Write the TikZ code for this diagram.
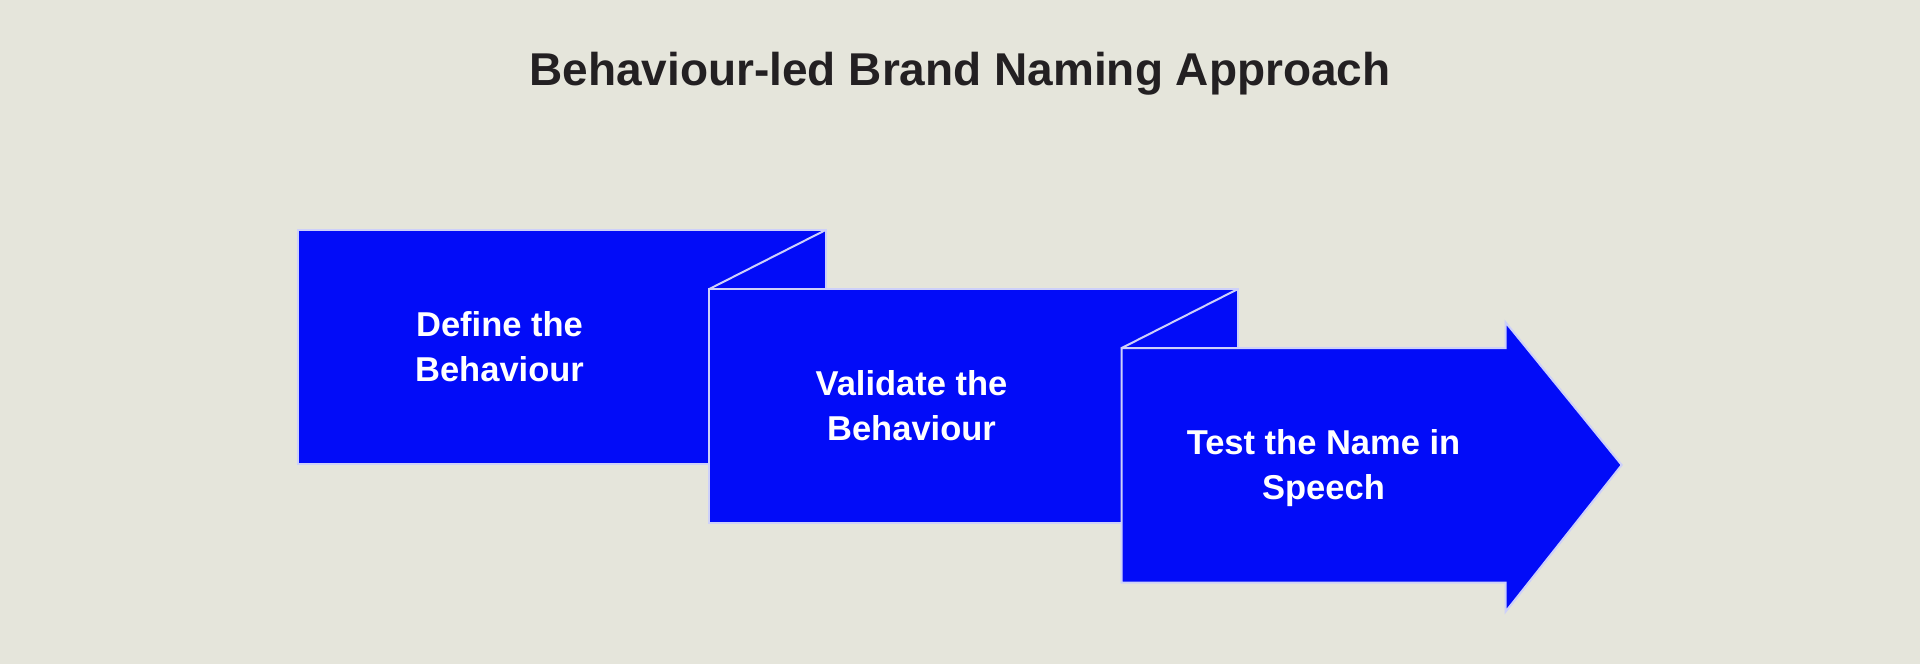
\documentclass[tikz,border=0pt]{standalone}
\usepackage{fontspec}
\setmainfont{Liberation Sans}
\definecolor{bgcol}{RGB}{229,229,219}
\definecolor{boxblue}{RGB}{2,12,248}
\definecolor{edgecol}{RGB}{205,208,250}
\definecolor{titlecol}{RGB}{35,32,34}
\tikzset{
  panel/.style={fill=boxblue, draw=edgecol, line width=2pt, line join=miter},
  foldline/.style={draw=edgecol, line width=2pt, line cap=round},
  paneltext/.style={text=white, font=\bfseries\fontsize{34.5}{44.5}\selectfont, align=center, text depth=0pt, inner sep=0pt},
  titletext/.style={text=titlecol, font=\bfseries\fontsize{46}{52}\selectfont, anchor=base, inner sep=0pt}
}
\begin{document}
\begin{tikzpicture}[x=1pt,y=-1pt]
\useasboundingbox (0,0) rectangle (1920,664);
\fill[bgcol] (0,0) rectangle (1920,664);
% title
\node[titletext] (title) at (960,85) {Behaviour-led Brand Naming Approach};
% panel 1
\coordinate (p1tl) at (297.6,230);
\coordinate (p1br) at (825.7,463.5);
\path[panel] (p1tl) rectangle (p1br);
% panel 2 corners
\coordinate (p2tl) at (709.3,289);
\coordinate (p2br) at (1238,523.3);
\draw[foldline] (825.7,230) coordinate (p1tr) (p1tr) -- (p2tl);
\path[panel] (p2tl) rectangle (p2br);
% panel 3 (arrow)
\coordinate (p3tl) at (1121.7,348);
\coordinate (p2tr) at (1238,289);
\draw[foldline] (p2tr) -- (p3tl);
\path[panel] (p3tl) -- (1505.7,348) -- (1505.7,322.5) -- (1621.7,465) coordinate (tip)
  -- (1505.7,611.5) -- (1505.7,582.5) -- (1121.7,582.5) -- cycle;
% texts
\node[paneltext] (t1) at (499.5,346.7) {Define the\\Behaviour};
\node[paneltext] (t2) at (911.5,405.6) {Validate the\\Behaviour};
\node[paneltext] (t3) at (1323.5,464.5) {Test the Name in\\Speech};
\end{tikzpicture}
\end{document}
